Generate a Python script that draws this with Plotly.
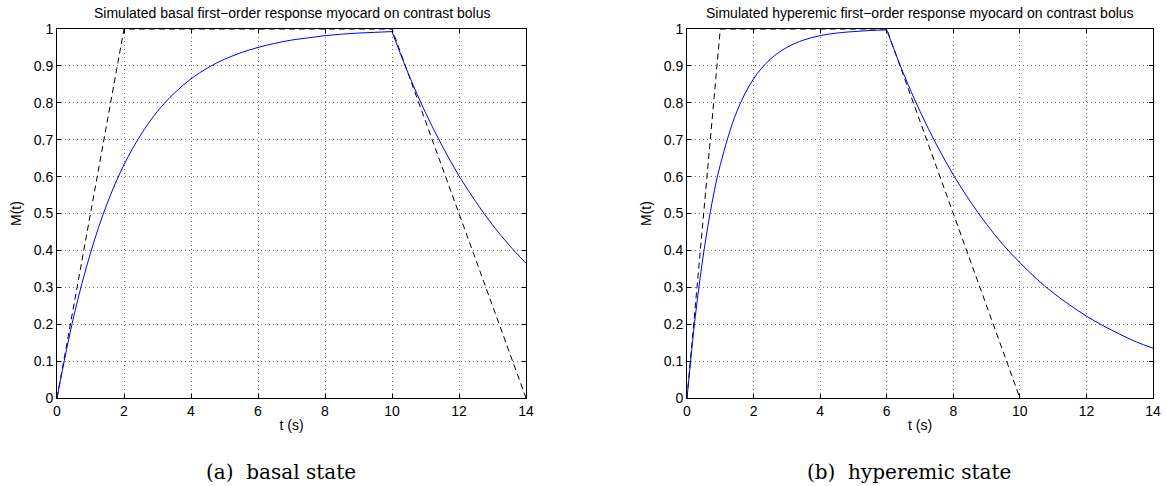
import plotly.graph_objects as go

# ---- data ----
# basal state: rise phase (0..10 s) and decay phase (10..14 s)
basal_rise_t = [0, 0.5, 1, 1.5, 2, 2.5, 3, 3.5, 4, 4.5, 5, 5.5, 6, 6.5, 7, 7.5, 8, 8.5, 9, 9.5, 10]
basal_rise_m = [0, 0.221, 0.393, 0.528, 0.632, 0.713, 0.777, 0.826, 0.865, 0.895, 0.918,
                0.936, 0.950, 0.961, 0.970, 0.976, 0.982, 0.986, 0.989, 0.991, 0.993]
basal_decay_t = [10, 10.5, 11, 11.5, 12, 12.5, 13, 13.5, 14]
basal_decay_m = [0.993, 0.876, 0.773, 0.683, 0.602, 0.532, 0.469, 0.414, 0.365]
basal_tangent_t = [0, 2, 10, 14]
basal_tangent_m = [0, 1, 1, 0]

# hyperemic state: rise phase (0..6 s) and decay phase (6..14 s)
hyp_rise_t = [0, 0.25, 0.5, 0.75, 1, 1.5, 2, 2.5, 3, 3.5, 4, 4.5, 5, 5.5, 6]
hyp_rise_m = [0, 0.221, 0.393, 0.528, 0.632, 0.777, 0.865, 0.918, 0.950, 0.970,
              0.982, 0.989, 0.993, 0.996, 0.9975]
hyp_decay_t = [6, 6.5, 7, 7.5, 8, 8.5, 9, 9.5, 10, 10.5, 11, 11.5, 12, 12.5, 13, 13.5, 14]
hyp_decay_m = [0.9975, 0.880, 0.777, 0.686, 0.605, 0.534, 0.471, 0.415, 0.367, 0.323,
               0.285, 0.252, 0.222, 0.196, 0.173, 0.152, 0.135]
hyp_tangent_t = [0, 1, 6, 10]
hyp_tangent_m = [0, 1, 1, 0]

x_ticks = [0, 2, 4, 6, 8, 10, 12, 14]
y_ticks = [0, 0.1, 0.2, 0.3, 0.4, 0.5, 0.6, 0.7, 0.8, 0.9, 1]
y_tick_labels = ["0", "0.1", "0.2", "0.3", "0.4", "0.5", "0.6", "0.7", "0.8", "0.9", "1"]

titles = ["Simulated basal first\u2212order response myocard on contrast bolus",
          "Simulated hyperemic first\u2212order response myocard on contrast bolus"]
captions = ["(a)  basal state", "(b)  hyperemic state"]

W, H = 1166, 486
fig = go.Figure()

BLUE = "#0000ff"

def add_panel(idx, rise_t, rise_m, decay_t, decay_m, tan_t, tan_m):
    xa = "x" if idx == 1 else "x2"
    ya = "y" if idx == 1 else "y2"
    fig.add_trace(go.Scatter(x=tan_t, y=tan_m, mode="lines",
                             line=dict(color="black", width=1, dash="6px,4px"),
                             xaxis=xa, yaxis=ya, showlegend=False))
    fig.add_trace(go.Scatter(x=rise_t, y=rise_m, mode="lines",
                             line=dict(color=BLUE, width=1, shape="spline", smoothing=1),
                             xaxis=xa, yaxis=ya, showlegend=False))
    fig.add_trace(go.Scatter(x=decay_t, y=decay_m, mode="lines",
                             line=dict(color=BLUE, width=1, shape="spline", smoothing=1),
                             xaxis=xa, yaxis=ya, showlegend=False))

add_panel(1, basal_rise_t, basal_rise_m, basal_decay_t, basal_decay_m, basal_tangent_t, basal_tangent_m)
add_panel(2, hyp_rise_t, hyp_rise_m, hyp_decay_t, hyp_decay_m, hyp_tangent_t, hyp_tangent_m)

# axis domains in pixels
left_box = (57, 526)
right_box = (687, 1153)
top_px, bot_px = 29, 398
ydom = [(H - bot_px) / H, (H - top_px) / H]

SANS = "Liberation Sans, Arial, sans-serif"
tickfont = dict(family=SANS, size=14, color="black")

def xaxis_cfg(box, anchor):
    return dict(domain=[box[0] / W, box[1] / W], range=[0, 14], tickvals=x_ticks,
                ticktext=[str(v) for v in x_ticks], anchor=anchor, automargin=False,
                showline=True, linecolor="black", linewidth=1, mirror="ticks",
                ticks="inside", ticklen=4, tickcolor="black",
                showgrid=True, gridcolor="rgba(0,0,0,0.55)", griddash="1px,3px", gridwidth=1,
                zeroline=False, tickfont=tickfont,
                title=dict(text="t (s)", font=tickfont, standoff=2))

def yaxis_cfg(anchor):
    return dict(domain=ydom, range=[0, 1], tickvals=y_ticks, ticktext=y_tick_labels,
                anchor=anchor, automargin=False,
                showline=True, linecolor="black", linewidth=1, mirror="ticks",
                ticks="inside", ticklen=4, tickcolor="black",
                showgrid=True, gridcolor="rgba(0,0,0,0.55)", griddash="1px,3px", gridwidth=1,
                zeroline=False, tickfont=tickfont,
                title=dict(text="M(t)", font=tickfont, standoff=8))

fig.update_layout(
    template="none",
    width=W, height=H,
    margin=dict(l=0, r=0, t=0, b=0),
    paper_bgcolor="white", plot_bgcolor="white",
    xaxis=xaxis_cfg(left_box, "y"),
    yaxis=yaxis_cfg("x"),
    xaxis2=xaxis_cfg(right_box, "y2"),
    yaxis2=yaxis_cfg("x2"),
)

annots = []
for box, t, c in zip([left_box, right_box], titles, captions):
    cx = (box[0] + box[1]) / 2 / W
    annots.append(dict(text=t, x=cx, y=(H - 13) / H, xref="paper", yref="paper",
                       xanchor="center", yanchor="middle", showarrow=False,
                       font=dict(family=SANS, size=14, color="black")))
    annots.append(dict(text=c, x=cx - 11 / W, y=(H - 472) / H, xref="paper", yref="paper",
                       xanchor="center", yanchor="middle", showarrow=False,
                       font=dict(family="DejaVu Serif, serif", size=20, color="black")))
fig.update_layout(annotations=annots)

fig.write_html("out.html", config={"displayModeBar": False},
               post_script="document.body.style.margin='0';document.body.style.overflow='hidden';")
